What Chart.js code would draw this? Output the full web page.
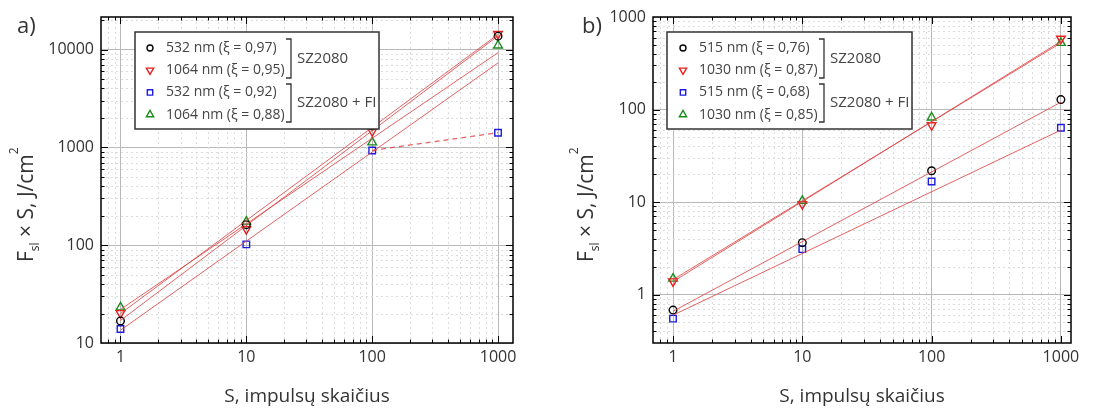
<!DOCTYPE html>
<html>
<head>
<meta charset="utf-8">
<script src="https://cdn.jsdelivr.net/npm/chart.js"></script>
<style>
  body { margin: 0; background: #fff; width: 1111px; height: 409px; overflow: hidden; position: relative; }
  .panel { position: absolute; top: 0; height: 409px; }
</style>
</head>
<body>
<div class="panel" style="left:0;width:560px"><canvas id="chartA" width="560" height="409"></canvas></div>
<div class="panel" style="left:560px;width:551px"><canvas id="chartB" width="551" height="409"></canvas></div>
<script>
// x values (pulse count S) and the x range of the fit lines
const S_VALUES = [1, 10, 100, 1000];
const FIT_S = [1, 1000];
const TAIL_S = [100, 1000];
const X_TICKS = [1, 10, 100, 1000];

// panel a) measured F_sl x S, J/cm2
const A_532 = [16.8, 162, 1650, 13700];
const A_1064 = [20.2, 146, 1460, 14450];
const A_532_FI = [13.9, 102, 930, 1412];
const A_1064_FI = [23.1, 174, 1125, 10990];
// panel a) fit lines (values at S = 1 and S = 1000)
const A_FIT_532 = [17, 13800];
const A_FIT_1064 = [20, 14300];
const A_FIT_532_FI = [13.5, 7300];
const A_FIT_1064_FI = [22, 9300];
const A_TAIL_532_FI = [930, 1412];
const A_Y_TICKS = [10, 100, 1000, 10000];
const A_LABELS = ['532 nm (ξ = 0,97)', '1064 nm (ξ = 0,95)', '532 nm (ξ = 0,92)', '1064 nm (ξ = 0,88)'];

// panel b)
const B_515 = [0.68, 3.64, 21.8, 128];
const B_1030 = [1.39, 9.5, 67.6, 583];
const B_515_FI = [0.55, 3.1, 16.7, 63.5];
const B_1030_FI = [1.49, 10.3, 82, 525];
const B_FIT_515 = [0.66, 120];
const B_FIT_1030 = [1.38, 545];
const B_FIT_515_FI = [0.6, 60];
const B_FIT_1030_FI = [1.45, 525];
const B_Y_TICKS = [1, 10, 100, 1000];
const B_LABELS = ['515 nm (ξ = 0,76)', '1030 nm (ξ = 0,87)', '515 nm (ξ = 0,68)', '1030 nm (ξ = 0,85)'];

const GROUPS = ['SZ2080', 'SZ2080 + FI'];
const X_TITLE = 'S, impulsų skaičius';

const FONT = "'Open Sans', 'Noto Sans', sans-serif";
const TEXT_COLOR = '#333';
const FIT_COLOR = 'rgba(222, 70, 70, 0.85)';
const STYLES = [
    { pointStyle: 'circle', color: '#000000', radius: 3.8, rotation: 0 },
    { pointStyle: 'triangle', color: '#e8201e', radius: 5, rotation: 180 },
    { pointStyle: 'rect', color: '#1c1ce0', radius: 4.6, rotation: 0 },
    { pointStyle: 'triangle', color: '#1a8c1a', radius: 5, rotation: 0 }
];

function pts(xs, ys) {
    return ys.map((y, i) => ({ x: xs[i], y: y }));
}

function markerSet(label, ys, st) {
    return {
        label: label,
        data: pts(S_VALUES, ys),
        showLine: false,
        pointStyle: st.pointStyle,
        rotation: st.rotation,
        pointRadius: st.radius,
        pointBorderColor: st.color,
        pointBackgroundColor: 'rgba(0,0,0,0)',
        pointBorderWidth: 1.4,
        order: 2
    };
}

function fitSet(xs, ys, dashed) {
    return {
        data: pts(xs, ys),
        showLine: true,
        borderColor: FIT_COLOR,
        borderWidth: dashed ? 1.3 : 1,
        borderDash: dashed ? [5, 4] : [],
        pointRadius: 0,
        order: 1
    };
}

function logRange(min, max, minor) {
    const out = [];
    for (let e = Math.floor(Math.log10(min)); e <= Math.ceil(Math.log10(max)); e++) {
        const ks = minor ? [2, 3, 4, 5, 6, 7, 8, 9] : [1];
        ks.forEach(k => {
            const v = k * Math.pow(10, e);
            if (v > min * 1.0001 && v < max * 0.9999) out.push(v);
        });
    }
    return out;
}

function drawMarker(ctx, st, x, y) {
    if (Chart.helpers && Chart.helpers.drawPoint) {
        ctx.save();
        ctx.strokeStyle = st.color;
        ctx.fillStyle = 'rgba(0,0,0,0)';
        ctx.lineWidth = 1.4;
        Chart.helpers.drawPoint(ctx, { pointStyle: st.pointStyle, rotation: st.rotation, radius: st.radius - 0.8, borderWidth: 1.4 }, x, y);
        ctx.restore();
    }
}

function decor(cfg) {
    return {
        id: 'decor',
        beforeDatasetsDraw(chart) {
            const { ctx, chartArea: ca, scales: { x, y } } = chart;
            ctx.save();
            ctx.strokeStyle = '#dcdcdc';
            ctx.lineWidth = 1;
            ctx.setLineDash([2, 3]);
            logRange(x.min, x.max, true).forEach(v => {
                const px = Math.round(x.getPixelForValue(v)) + 0.5;
                ctx.beginPath(); ctx.moveTo(px, ca.top); ctx.lineTo(px, ca.bottom); ctx.stroke();
            });
            logRange(y.min, y.max, true).forEach(v => {
                const py = Math.round(y.getPixelForValue(v)) + 0.5;
                ctx.beginPath(); ctx.moveTo(ca.left, py); ctx.lineTo(ca.right, py); ctx.stroke();
            });
            ctx.restore();
        },
        afterDraw(chart) {
            const { ctx, chartArea: ca, scales: { x, y } } = chart;
            ctx.save();
            // inward ticks on all four sides
            ctx.strokeStyle = '#000';
            ctx.lineWidth = 1;
            [[false, 3.5], [true, 7]].forEach(([major, len]) => {
                logRange(x.min, x.max, !major).forEach(v => {
                    const px = Math.round(x.getPixelForValue(v)) + 0.5;
                    ctx.beginPath();
                    ctx.moveTo(px, ca.bottom); ctx.lineTo(px, ca.bottom - len);
                    ctx.moveTo(px, ca.top); ctx.lineTo(px, ca.top + len);
                    ctx.stroke();
                });
                logRange(y.min, y.max, !major).forEach(v => {
                    const py = Math.round(y.getPixelForValue(v)) + 0.5;
                    ctx.beginPath();
                    ctx.moveTo(ca.left, py); ctx.lineTo(ca.left + len, py);
                    ctx.moveTo(ca.right, py); ctx.lineTo(ca.right - len, py);
                    ctx.stroke();
                });
            });
            // frame
            ctx.lineWidth = 1.5;
            ctx.strokeRect(ca.left, ca.top, ca.right - ca.left, ca.bottom - ca.top);

            // legend
            const L = cfg.legend;
            ctx.fillStyle = '#fff';
            ctx.fillRect(L.left, L.top, L.right - L.left, L.bottom - L.top);
            ctx.strokeStyle = '#333';
            ctx.lineWidth = 1.5;
            ctx.strokeRect(L.left, L.top, L.right - L.left, L.bottom - L.top);
            ctx.font = '14px ' + FONT;
            ctx.textBaseline = 'middle';
            ctx.textAlign = 'left';
            cfg.labels.forEach((t, i) => {
                const ry = L.top + 16 + i * 22.2;
                drawMarker(ctx, STYLES[i], L.markerX, ry);
                ctx.fillStyle = '#444';
                ctx.fillText(t, L.textX, ry);
            });
            ctx.strokeStyle = '#333';
            ctx.lineWidth = 1.3;
            [[L.top + 7, L.top + 46], [L.top + 52, L.top + 90]].forEach(([y1, y2], g) => {
                ctx.beginPath();
                ctx.moveTo(L.bracketX - 5, y1); ctx.lineTo(L.bracketX, y1);
                ctx.lineTo(L.bracketX, y2); ctx.lineTo(L.bracketX - 5, y2);
                ctx.stroke();
                ctx.fillStyle = '#444';
                ctx.font = '15px ' + FONT;
                ctx.fillText(GROUPS[g], L.bracketX + 6, (y1 + y2) / 2);
            });

            // panel letter
            ctx.fillStyle = TEXT_COLOR;
            ctx.font = '22px ' + FONT;
            ctx.fillText(cfg.letter, cfg.letterX, 27);

            // x title
            ctx.font = '19px ' + FONT;
            ctx.textAlign = 'center';
            ctx.textBaseline = 'alphabetic';
            ctx.fillText(X_TITLE, (ca.left + ca.right) / 2, 402);

            // y title with sub/superscript
            ctx.save();
            ctx.translate(cfg.yTitleX, 262);
            ctx.rotate(-Math.PI / 2);
            ctx.textAlign = 'left';
            let cx = 0;
            const part = (txt, size, dy) => {
                ctx.font = size + 'px ' + FONT;
                ctx.fillText(txt, cx, dy);
                cx += ctx.measureText(txt).width;
            };
            part('F', 21, 0);
            part('sl', 12, 6);
            part(' × S, J/cm', 21, 0);
            part('2', 12, -15);
            ctx.restore();
            ctx.restore();
        }
    };
}

function makePanel(id, cfg) {
    new Chart(document.getElementById(id), {
        type: 'scatter',
        data: { datasets: cfg.datasets },
        options: {
            responsive: false,
            animation: false,
            devicePixelRatio: 1,
            layout: { padding: { top: 17, right: cfg.padRight, left: 0, bottom: 0 } },
            plugins: { legend: { display: false }, tooltip: { enabled: false } },
            scales: {
                x: {
                    type: 'logarithmic',
                    min: cfg.xMin, max: cfg.xMax,
                    afterBuildTicks: s => { s.ticks = X_TICKS.map(v => ({ value: v })); },
                    afterFit: s => { s.height = 66; },
                    grid: { color: '#b8b8b8', lineWidth: 1, drawTicks: false },
                    border: { display: false },
                    ticks: { color: TEXT_COLOR, padding: 5, font: { family: FONT, size: 16 }, callback: v => String(v) }
                },
                y: {
                    type: 'logarithmic',
                    min: cfg.yMin, max: cfg.yMax,
                    afterBuildTicks: s => { s.ticks = cfg.yTicks.map(v => ({ value: v })); },
                    afterFit: s => { s.width = cfg.yWidth; },
                    grid: { color: '#b8b8b8', lineWidth: 1, drawTicks: false },
                    border: { display: false },
                    ticks: { color: TEXT_COLOR, padding: 7, font: { family: FONT, size: 16 }, callback: v => String(v) }
                }
            }
        },
        plugins: [decor(cfg)]
    });
}

makePanel('chartA', {
    xMin: 0.707, xMax: 1315, yMin: 10, yMax: 21500,
    yTicks: A_Y_TICKS, yWidth: 101, padRight: 47,
    letter: 'a)', letterX: 17, yTitleX: 33, labels: A_LABELS,
    legend: { left: 135, top: 32, right: 379, bottom: 129, markerX: 150, textX: 166, bracketX: 291 },
    datasets: [
        fitSet(FIT_S, A_FIT_532), fitSet(FIT_S, A_FIT_1064),
        fitSet(FIT_S, A_FIT_532_FI), fitSet(FIT_S, A_FIT_1064_FI),
        fitSet(TAIL_S, A_TAIL_532_FI, true),
        markerSet(A_LABELS[0], A_532, STYLES[0]),
        markerSet(A_LABELS[1], A_1064, STYLES[1]),
        markerSet(A_LABELS[2], A_532_FI, STYLES[2]),
        markerSet(A_LABELS[3], A_1064_FI, STYLES[3])
    ]
});

makePanel('chartB', {
    xMin: 0.70, xMax: 1197, yMin: 0.3, yMax: 1000,
    yTicks: B_Y_TICKS, yWidth: 93, padRight: 40,
    letter: 'b)', letterX: 22, yTitleX: 33, labels: B_LABELS,
    legend: { left: 107, top: 32, right: 352, bottom: 129, markerX: 123, textX: 139, bracketX: 264 },
    datasets: [
        fitSet(FIT_S, B_FIT_515), fitSet(FIT_S, B_FIT_1030),
        fitSet(FIT_S, B_FIT_515_FI), fitSet(FIT_S, B_FIT_1030_FI),
        markerSet(B_LABELS[0], B_515, STYLES[0]),
        markerSet(B_LABELS[1], B_1030, STYLES[1]),
        markerSet(B_LABELS[2], B_515_FI, STYLES[2]),
        markerSet(B_LABELS[3], B_1030_FI, STYLES[3])
    ]
});
</script>
</body>
</html>
